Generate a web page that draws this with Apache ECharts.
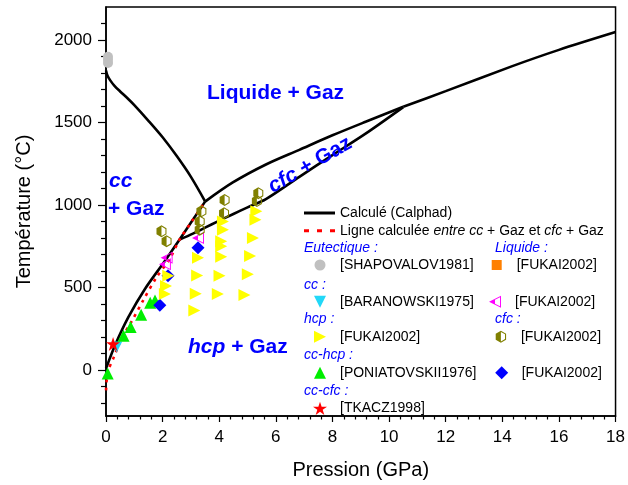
<!DOCTYPE html>
<html><head><meta charset="utf-8">
<script src="https://cdn.jsdelivr.net/npm/echarts@6/dist/echarts.min.js"></script>
<style>html,body{margin:0;padding:0;background:#fff}#c{width:628px;height:485px}</style>
</head><body><div id="c"></div>
<script>
// ---- calculated boundaries [P (GPa), T (°C)] ----
const liquidusCC   = [[0,1815],[0.05,1785],[0.15,1755],[0.3,1722],[0.5,1688],[0.75,1648],[1.0,1605],[1.5,1510],[2.0,1410],[2.5,1296],[3.0,1170],[3.5,1022]];
const ccHcpLine    = [[0,8],[0.32,149],[0.79,319],[1.37,489],[2.08,660],[2.6,790]];
const ccCfcLine    = [[2.6,790],[3.05,905],[3.5,1020]];
const cfcLowerLine = [[2.6,790],[3.07,826],[3.5,862],[3.95,900],[4.5,945],[5.0,985],[5.65,1035],[6.83,1170],[8.0,1302],[9.17,1432],[10.5,1593]];
const cfcUpperLine = [[3.5,1020],[4.48,1136],[5.65,1245],[6.83,1334],[8.0,1422],[9.17,1504],[10.5,1595]];
const liquidusCfc  = [[10.5,1595],[12,1690],[14.33,1840],[16,1940],[18,2048]];
const redDashLine  = [[0,-125],[0.03,-55],[0.1,5],[0.26,70],[0.55,190],[0.9,292],[1.31,420],[1.78,560],[2.25,672],[2.6,790],[3.05,905],[3.5,1020]];

// ---- experimental points ----
const shapovalov1981 = [[0.07,1860],[0.07,1880],[0.07,1898]];
const liqFukai2002   = [];
const baranowski1975 = [[0.38,138]];
const ccFukai2002    = [[2.14,680],[2.08,640],[3.25,800]];
const hcpFukai2002   = [[2.2,570],[2.12,508],[2.08,460],
                        [3.25,680],[3.22,572],[3.17,462],[3.12,360],
                        [4.13,900],[4.13,850],[4.07,780],[4.07,750],[4.07,686],[4.01,570],[3.95,459],
                        [5.31,961],[5.28,910],[5.19,800],[5.09,690],[5.01,579],[4.89,454]];
const cfcFukai2002   = [[1.96,840],[2.14,780],[3.37,961],[3.31,900],[3.31,850],[4.19,1030],[4.17,950],[5.38,1071],[5.33,1024]];
const poniatovskii1976 = [[0.06,-22],[0.62,207],[0.87,259],[1.24,334],[1.56,406],[1.73,420]];
const cchcpFukai2002 = [[1.9,391],[2.19,570],[3.25,740]];
const tkacz1998      = [[0.25,157]];

// ---- axis ticks ----
const yMajorTicks = [0,500,1000,1500,2000];
const yMinorTicks = [-200,-100,100,200,300,400,600,700,800,900,1100,1200,1300,1400,1600,1700,1800,1900,2100];

const FONT = '"Liberation Sans", Arial, sans-serif';
const HEX_HALF = 'path://M50 0 L93.3 25 L93.3 75 L50 100 L6.7 75 L6.7 25 Z M50 11 L15.8 30.5 L15.8 69.5 L50 89 L84.2 69.5 L84.2 30.5 Z M50 11 L15.8 30.5 L15.8 69.5 L50 89 Z';
const TRI_LEFT_HALF = 'path://M0 50 L100 0 L100 100 Z M17 50 L92 88 L92 12 Z M17 50 L50 33.3 L50 66.7 Z';
const TRI_RIGHT = 'path://M0 0 L100 50 L0 100 Z';
const TRI_DOWN = 'path://M0 0 L100 0 L50 100 Z';
const STAR = 'path://M50 0 L61.2 34.5 L97.6 34.5 L68.2 55.9 L79.4 90.5 L50 69.1 L20.6 90.5 L31.8 55.9 L2.4 34.5 L38.8 34.5 Z';
const ICON_SOLID = 'path://M0 0H31V3H0Z';
const ICON_DASH = 'path://M0 0H5V3H0Z M13 0H18V3H13Z M26 0H31V3H26Z';

const blackLine = (d) => ({name:'Calculé (Calphad)', type:'line', data:d, symbol:'none', smooth:0.3,
  lineStyle:{color:'#000', width:2.6}, itemStyle:{color:'#000'}, z:2, silent:true, clip:true});
const scatter = (name, d, symbol, size, color, z) => ({name, type:'scatter', data:d, symbol, symbolSize:size,
  itemStyle:{color, opacity:1}, z:z||3, silent:true, clip:false});

const series = [
  blackLine(liquidusCC), blackLine(ccHcpLine), blackLine(ccCfcLine), blackLine(cfcLowerLine),
  blackLine(cfcUpperLine), blackLine(liquidusCfc),
  {name:'Ligne', type:'line', data:redDashLine, symbol:'none', smooth:0.3, z:2, silent:true,
   lineStyle:{color:'#ff0000', width:2.6, type:[3,5]}, itemStyle:{color:'#ff0000'}},
  scatter('SHAPOVALOV1981', shapovalov1981, 'circle', 10, '#c0c0c0'),
  scatter('LiqFUKAI2002', liqFukai2002, 'rect', 10, '#ff8000'),
  scatter('BARANOWSKI1975', baranowski1975, TRI_DOWN, 11, '#22d8f8'),
  scatter('PONIATOVSKII1976', poniatovskii1976, 'triangle', 12, '#00ee00'),
  scatter('cchcpFUKAI2002', cchcpFukai2002, 'diamond', 13, '#0000ff'),
  scatter('hcpFUKAI2002', hcpFukai2002, TRI_RIGHT, 12, '#ffff00', 4),
  scatter('ccFUKAI2002', ccFukai2002, TRI_LEFT_HALF, 12, '#ff00ff', 4),
  scatter('cfcFUKAI2002', cfcFukai2002, HEX_HALF, [10,12], '#808000', 4),
  scatter('TKACZ1998', tkacz1998, STAR, 14, '#ff0000', 5)
];

// [series, icon left x, centre y, label, icon]
const lineLegend = [
  ['Calculé (Calphad)', 304, 213, 'Calculé (Calphad)', ICON_SOLID],
  ['Ligne', 304, 230.7, '{n|Ligne calculée }{i|entre cc}{n| + Gaz et }{i|cfc}{n| + Gaz}', ICON_DASH]
];
// [series, icon centre x, centre y, icon size, label]
const symLegend = [
  ['SHAPOVALOV1981', 320, 265, 11, '[SHAPOVALOV1981]'],
  ['LiqFUKAI2002', 496.7, 265, 10, '[FUKAI2002]'],
  ['BARANOWSKI1975', 320, 301.7, 12, '[BARANOWSKI1975]'],
  ['ccFUKAI2002', 495, 301.7, 12, '[FUKAI2002]'],
  ['hcpFUKAI2002', 320, 336.7, 12, '[FUKAI2002]'],
  ['cfcFUKAI2002', 501.7, 336.7, 12, '[FUKAI2002]'],
  ['PONIATOVSKII1976', 320, 372.7, 12, '[PONIATOVSKII1976]'],
  ['cchcpFUKAI2002', 501.7, 372.7, 13, '[FUKAI2002]'],
  ['TKACZ1998', 320, 408.3, 14, '[TKACZ1998]']
];
const txt = (pad) => ({fontSize:14, fontFamily:FONT, color:'#000', padding:[0,0,0,pad],
  rich:{n:{fontSize:14, fontFamily:FONT, color:'#000'}, i:{fontSize:14, fontFamily:FONT, color:'#000', fontStyle:'italic'}}});
const legends = [
  ...lineLegend.map(([name, left, cy, label, icon]) => ({
    data:[{name, icon}], left, top: cy - 7, itemWidth:31, itemHeight:3, padding:0, itemGap:0,
    selectedMode:false, formatter: () => label, textStyle: txt(0)})),
  ...symLegend.map(([name, cx, cy, h, label]) => ({
    data:[name], left: cx - h/2, top: cy - 7, itemWidth:h, itemHeight:h, padding:0, itemGap:0,
    selectedMode:false, formatter: () => label, textStyle: txt(15 - h/2)}))
];

const headers = [['Eutectique :',304,248],['Liquide :',495,248],['cc :',304,285],['hcp :',304,319],['cfc :',495,319],['cc-hcp :',304,355],['cc-cfc :',304,390.7]];
const graphics = headers.map(([t,x,y]) => ({type:'text', x, y, silent:true, z:10,
  style:{text:t, fill:'#0000ff', font:'italic 14px ' + FONT, textVerticalAlign:'middle'}}));

const BIG = {fill:'#0000ff', fontSize:21, fontFamily:FONT, fontWeight:'bold'};
graphics.push(
  {type:'text', x:207, y:93, silent:true, z:10, style:{text:'Liquide + Gaz', fill:'#0000ff', font:'bold 21px ' + FONT, textVerticalAlign:'middle'}},
  {type:'text', x:109, y:181, silent:true, z:10, style:{text:'cc', fill:'#0000ff', font:'italic bold 21px ' + FONT, textVerticalAlign:'middle'}},
  {type:'text', x:108, y:209, silent:true, z:10, style:{text:'+ Gaz', fill:'#0000ff', font:'bold 21px ' + FONT, textVerticalAlign:'middle'}},
  {type:'text', x:188, y:347, silent:true, z:10, style:{text:'{a|hcp}{b| + Gaz}', rich:{a:Object.assign({fontStyle:'italic'},BIG), b:BIG}, textVerticalAlign:'middle'}},
  {type:'text', x:310, y:165, rotation:30*Math.PI/180, silent:true, z:10, style:{text:'{a|cfc}{b| + Gaz}', rich:{a:Object.assign({fontStyle:'italic'},BIG), b:BIG}, textAlign:'center', textVerticalAlign:'middle'}}
);

const chart = echarts.init(document.getElementById('c'), null, {renderer:'canvas'});
chart.setOption({
  animation:false,
  backgroundColor:'#fff',
  grid:{left:106, right:10.5, top:7, bottom:66, show:true, borderColor:'#000', borderWidth:1.5, backgroundColor:'transparent'},
  xAxis:{type:'value', min:0, max:18, interval:2,
    name:'Pression (GPa)', nameLocation:'middle', nameGap:44, nameTextStyle:{fontSize:20, fontFamily:FONT, color:'#000'},
    axisLine:{show:true, onZero:false, lineStyle:{color:'#000', width:1.5}},
    axisTick:{show:true, length:6, lineStyle:{color:'#000', width:1.2}},
    minorTick:{show:true, splitNumber:5, length:3.5, lineStyle:{color:'#000', width:1.2}},
    axisLabel:{fontSize:17, fontFamily:FONT, color:'#000', margin:13},
    splitLine:{show:false}},
  yAxis:[
    {type:'value', min:-280, max:2200,
     name:'Température (°C)', nameLocation:'middle', nameGap:72, nameRotate:90, nameTextStyle:{fontSize:20, fontFamily:FONT, color:'#000'},
     axisLine:{show:true, onZero:false, lineStyle:{color:'#000', width:1.5}},
     axisTick:{show:true, length:8, customValues:yMajorTicks, lineStyle:{color:'#000', width:1.2}},
     axisLabel:{fontSize:17, fontFamily:FONT, color:'#000', margin:14, customValues:yMajorTicks, formatter:(v) => String(v)},
     splitLine:{show:false}},
    {type:'value', min:-280, max:2200, position:'left',
     axisLine:{show:false}, axisLabel:{show:false}, splitLine:{show:false},
     axisTick:{show:true, length:5, customValues:yMinorTicks, lineStyle:{color:'#000', width:1.2}}}
  ],
  legend:legends,
  graphic:graphics,
  series:series
});
</script></body></html>
